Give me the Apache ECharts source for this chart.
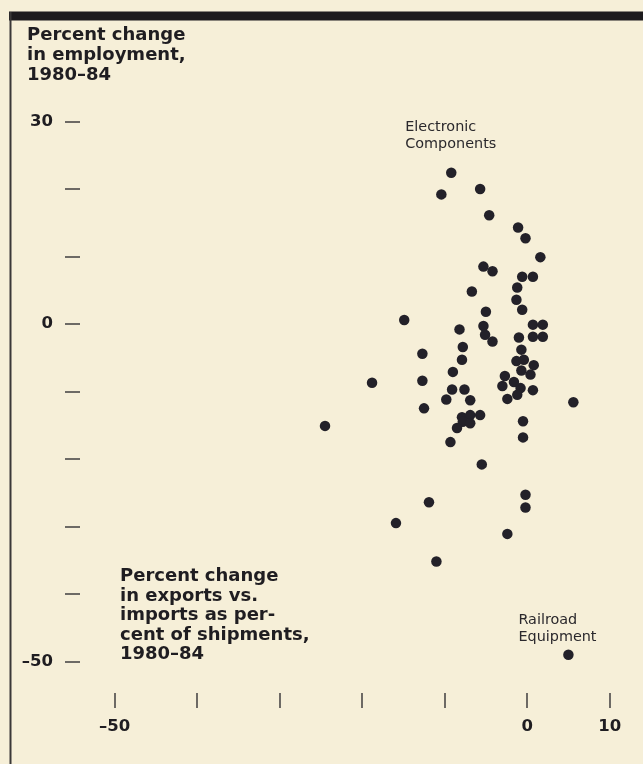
<!DOCTYPE html>
<html>
<head>
<meta charset="utf-8">
<title>Employment vs. trade balance, 1980–84</title>
<script src="https://cdn.jsdelivr.net/npm/echarts@6/dist/echarts.min.js"></script>
<style>
  html, body { margin: 0; padding: 0; background: #f6efd8; }
  #chart { width: 643px; height: 764px; }
</style>
</head>
<body>
<div id="chart"></div>
<script>
// Percent change in exports vs. imports as percent of shipments, 1980–84 (x)
// against percent change in employment, 1980–84 (y), one point per industry.
const exportChange = [
  -9.2,
  -10.4, -5.7, -4.6, -1.1, -0.2, 1.6, -5.3, -4.2, -0.6, 0.7,
  -6.7, -1.2, -1.3, -0.6, -5.0, -14.9, 0.7, 1.9, 0.7, 1.9,
  -5.3, -8.2, -5.1, -4.2, -1.0, -7.8, -7.9, -12.7, -0.7, -1.3,
  -0.4, 0.8, -0.7, 0.4, -2.7, -3.0, -1.6, -0.8, 0.7, -2.4,
  -1.2, -9.0, -12.7, -18.8, -9.1, -7.6, -9.8, -6.9, -12.5, 5.6,
  -24.5, -7.9, -6.9, -5.7, -7.8, -6.9, -8.5, -0.5, -0.5, -9.3,
  -5.5, -0.2, -0.2, -11.9, -15.9, -2.4, -11.0,
  5.0
];
const employmentChange = [
  22.4,
  19.2, 20.0, 16.1, 14.3, 12.7, 9.9, 8.5, 7.8, 7.0, 7.0,
  4.8, 5.4, 3.6, 2.1, 1.8, 0.6, -0.1, -0.1, -1.9, -1.9,
  -0.3, -0.8, -1.6, -2.6, -2.0, -3.4, -5.3, -4.4, -3.8, -5.5,
  -5.3, -6.1, -6.9, -7.5, -7.7, -9.2, -8.6, -9.5, -9.8, -11.1,
  -10.5, -7.1, -8.4, -8.7, -9.7, -9.7, -11.2, -11.3, -12.5, -11.6,
  -15.1, -13.8, -13.5, -13.5, -14.5, -14.7, -15.4, -14.4, -16.8, -17.5,
  -20.8, -25.3, -27.2, -26.4, -29.5, -31.1, -35.2,
  -49.0
];
// Industries called out by name (index into the arrays above)
const namedIndustries = [
  { index: 0, name: 'Electronic\nComponents' },
  { index: 68, name: 'Railroad\nEquipment' }
];

const xTicks = [-50, -40, -30, -20, -10, 0, 10];
const xTickLabels = [-50, 0, 10];
const yTicks = [30, 20, 10, 0, -10, -20, -30, -40, -50];
const yTickLabels = [30, 0, -50];

const yTitle = 'Percent change\nin employment,\n1980–84';
const xTitle = 'Percent change\nin exports vs.\nimports as per-\ncent of shipments,\n1980–84';

const INK = '#1f1d21';
const DOT = '#232129';
const TICK = '#4b4848';
const PAPER = '#f6efd8';

// label placement for the two named points
const calloutStyle = {
  0: { offset: [-46, 0], distance: 15 },
  68: { offset: [-50, 0], distance: 4 }
};

const points = exportChange.map((x, i) => {
  const item = { value: [x, employmentChange[i]] };
  const named = namedIndustries.find(n => n.index === i);
  if (named) {
    const s = calloutStyle[i];
    item.label = {
      show: true,
      formatter: named.name,
      position: 'top',
      align: 'left',
      offset: s.offset,
      distance: s.distance,
      color: '#2a282c',
      fontFamily: 'DejaVu Sans',
      fontSize: 14.4,
      lineHeight: 17
    };
  }
  return item;
});

const signed = v => (v < 0 ? '\u2013' + Math.abs(v) : String(v));
const tickFont = {
  fontFamily: 'DejaVu Sans',
  fontWeight: 'bold',
  fontSize: 16.5,
  color: INK
};

const chart = echarts.init(document.getElementById('chart'), null, { renderer: 'canvas' });
chart.setOption({
  backgroundColor: PAPER,
  animation: false,
  grid: { left: 80, right: 2, top: 110, bottom: 71, containLabel: false },
  xAxis: {
    type: 'value',
    min: -54.2,
    max: 13.8,
    axisLine: { show: false, onZero: false },
    splitLine: { show: false },
    axisTick: {
      show: true,
      customValues: xTicks,
      length: 15,
      inside: false,
      lineStyle: { color: TICK, width: 1.6 }
    },
    axisLabel: Object.assign({
      customValues: xTickLabels,
      margin: 25,
      formatter: signed
    }, tickFont)
  },
  yAxis: {
    type: 'value',
    min: -54.67,
    max: 31.7,
    axisLine: { show: false, onZero: false },
    splitLine: { show: false },
    axisTick: {
      show: true,
      customValues: yTicks,
      length: 15,
      inside: false,
      lineStyle: { color: TICK, width: 1.6 }
    },
    axisLabel: Object.assign({
      customValues: yTickLabels,
      margin: 27,
      formatter: signed
    }, tickFont)
  },
  series: [{
    type: 'scatter',
    data: points,
    symbol: 'circle',
    symbolSize: 10.5,
    itemStyle: { color: DOT, opacity: 1 },
    emphasis: { disabled: true },
    z: 3
  }],
  graphic: [
    {
      type: 'rect',
      shape: { x: 9, y: 11.5, width: 634, height: 9 },
      style: { fill: '#1d1b1e' },
      silent: true
    },
    {
      type: 'line',
      shape: { x1: 10.5, y1: 12, x2: 10.5, y2: 764 },
      style: { stroke: '#3a3838', lineWidth: 2 },
      silent: true
    },
    {
      type: 'text',
      x: 27,
      y: 25,
      style: {
        text: yTitle,
        font: 'bold 18px "DejaVu Sans"',
        lineHeight: 20,
        fill: INK
      },
      silent: true
    },
    {
      type: 'text',
      x: 120,
      y: 567,
      style: {
        text: xTitle,
        font: 'bold 18px "DejaVu Sans"',
        lineHeight: 19.5,
        fill: INK
      },
      silent: true
    }
  ]
});
</script>
</body>
</html>
